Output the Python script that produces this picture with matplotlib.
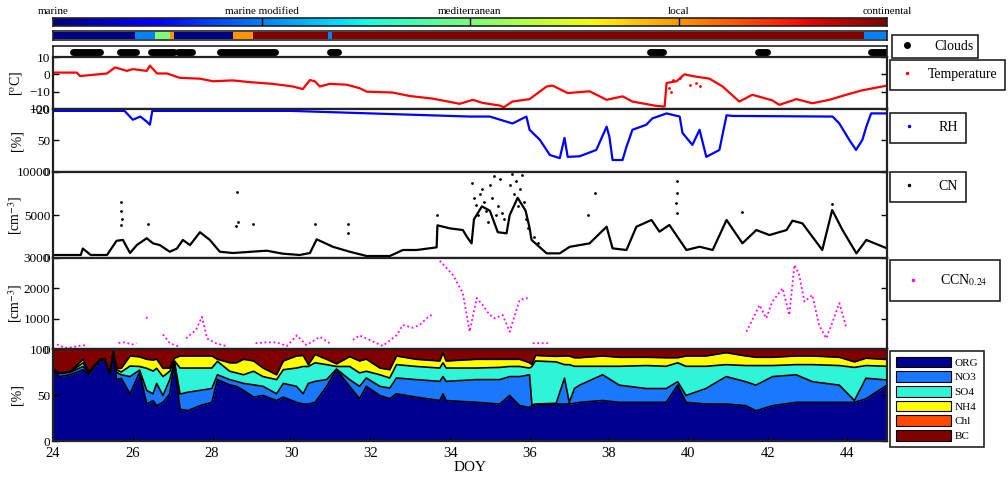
import numpy as np
import matplotlib
matplotlib.use("Agg")
import matplotlib.pyplot as plt
from matplotlib.lines import Line2D
from matplotlib.patches import Patch

plt.rcParams["font.family"] = ["Liberation Serif", "DejaVu Serif"]
plt.rcParams["mathtext.fontset"] = "stix"

# ---- air mass classification -------------------------------------------
airmass_names = ["marine", "marine modified", "mediterranean", "local", "continental"]
airmass_start = [24.0, 26.06, 26.57, 26.94, 27.04, 28.53, 29.03, 30.92, 31.02, 44.43]
airmass_end = [26.06, 26.57, 26.94, 27.04, 28.53, 29.03, 30.92, 31.02, 44.43, 45.0]
airmass_class = [0, 1, 2, 3, 0, 3, 4, 1, 4, 1]

# ---- cloud periods ------------------------------------------------------
cloud_start = [24.50, 25.69, 26.47, 27.14, 28.20, 30.97, 39.02, 41.74, 44.60]
cloud_end = [25.18, 26.09, 27.04, 27.50, 29.58, 31.17, 39.35, 41.99, 44.98]

# ---- temperature [C] ----------------------------------------------------
t_doy = [24.00, 24.60, 24.68, 25.36, 25.56, 25.86, 26.01, 26.36, 26.44, 26.62,
         26.87, 27.19, 27.70, 28.03, 28.53, 28.96, 29.53, 30.04, 30.29, 30.47,
         30.59, 30.72, 30.97, 31.40, 31.72, 31.90, 32.55, 32.98, 33.56, 34.24,
         34.57, 34.82, 35.25, 35.35, 35.57, 36.00, 36.43, 36.58, 36.96, 37.51,
         37.94, 38.34, 38.59, 39.19, 39.40, 39.45, 39.70, 39.90, 40.10, 40.53,
         40.86, 41.28, 41.61, 42.11, 42.29, 42.72, 43.12, 43.55, 43.97, 44.38,
         45.00]
temp = [1, 1, -1, 0.5, 4, 2, 3, 2, 5, 0.5,
        0.5, -2, -2.5, -4, -3.5, -4.5, -5.5, -7, -8.5, -3.3,
        -4, -7, -5.5, -6, -8, -10, -10.5, -12.5, -14, -17,
        -14.7, -16.5, -18, -19, -15.7, -14.3, -7, -6.5, -10.8, -9.8,
        -14.7, -12.7, -15.7, -18.2, -18.6, -5, -4, 0, -1, -2.5,
        -7, -15.7, -11.8, -15, -17.6, -14.3, -16.7, -14.7, -11.8, -9.2,
        -6.5]
t_extra_doy = [39.5, 39.6, 39.8, 40.05, 40.2, 40.3, 39.55]
t_extra = [-8, -3, -2, -6, -5, -7, -10]

# ---- relative humidity [%] ----------------------------------------------
rh_doy = [24.0, 25.8, 26.01, 26.2, 26.36, 26.44, 26.5, 30.0, 31.0, 32.5,
          33.5, 34.5, 35.0, 35.57, 35.92, 36.0, 36.26, 36.51, 36.76, 36.88,
          36.96, 37.26, 37.68, 37.94, 38.01, 38.09, 38.34, 38.44, 38.59, 38.94,
          39.09, 39.45, 39.78, 39.85, 40.10, 40.28, 40.45, 40.78, 40.96, 41.11,
          43.63, 43.80, 44.05, 44.22, 44.38, 44.48, 44.60, 45.0]
rh = [97, 97, 83, 88, 80, 75, 97, 97, 95, 92,
      90, 88, 88, 77, 88, 67, 51, 27, 22, 54,
      24, 25, 35, 72, 56, 19, 19, 40, 67, 75,
      85, 93, 88, 62, 43, 67, 24, 35, 90, 89,
      88, 77, 51, 35, 51, 72, 93, 93]

# ---- condensation nuclei [cm-3] -----------------------------------------
cn_doy = [24.0, 24.7, 24.75, 24.95, 25.36, 25.6, 25.76, 25.94, 26.11, 26.36,
          26.52, 26.69, 26.94, 27.12, 27.27, 27.45, 27.70, 27.95, 28.20, 28.53,
          29.38, 29.79, 30.21, 30.47, 30.64, 31.05, 31.47, 31.90, 32.48, 32.81,
          33.16, 33.66, 33.68, 33.99, 34.32, 34.42, 34.54, 34.6, 34.8, 35.0,
          35.2, 35.42, 35.5, 35.7, 35.9, 36.0, 36.05, 36.43, 36.76, 37.01,
          37.51, 37.94, 38.09, 38.44, 38.69, 39.07, 39.27, 39.52, 39.95, 40.28,
          40.61, 40.96, 41.36, 41.71, 42.04, 42.47, 42.62, 42.87, 43.37, 43.62,
          43.88, 44.23, 44.48, 45.0]
cn = [350, 350, 1100, 350, 350, 2000, 2100, 580, 1500, 2300,
      1700, 1500, 730, 1100, 2100, 1500, 3000, 2100, 730, 580,
      850, 500, 350, 580, 2170, 1300, 730, 230, 230, 930,
      930, 1240, 3800, 3450, 3250, 2480, 1700, 4500, 6000, 5500,
      3000, 2870, 5000, 7000, 5500, 3500, 2100, 540, 540, 1300,
      1700, 3640, 1120, 930, 3640, 4420, 3060, 3840, 930, 1310,
      930, 4420, 1710, 3250, 2670, 3250, 4340, 4030, 930, 5580,
      3250, 540, 2100, 1120]
cn_spike_doy = [25.7, 25.72, 25.74, 25.7, 26.4, 28.63, 28.65, 28.6, 29.03, 30.59,
                31.42, 31.44, 33.66, 34.55, 34.6, 34.65, 34.7, 34.75, 34.8, 34.85,
                34.9, 34.95, 35.0, 35.05, 35.1, 35.15, 35.2, 35.25, 35.3, 35.35,
                35.5, 35.55, 35.6, 35.65, 35.7, 35.75, 35.8, 35.85, 35.9, 35.95,
                36.1, 36.2, 37.46, 37.64, 39.7, 39.72, 39.68, 39.71, 41.36, 43.62]
cn_spike = [6500, 5500, 4500, 3800, 3900, 7700, 4200, 3700, 3900, 3900,
            3900, 2900, 5000, 8700, 7000, 6200, 5000, 7500, 8000, 6500,
            5500, 4200, 8500, 7000, 9500, 5000, 6000, 9200, 5200, 4500,
            8500, 9800, 7500, 9000, 6000, 8000, 9700, 6500, 4500, 3500,
            2500, 1800, 5000, 7600, 8900, 7600, 6400, 5200, 5400, 6300]

# ---- CCN at 0.24 % supersaturation [cm-3] (nan = no data) ---------------
ccn_doy = [24.1, 24.3, 24.5, 24.75, 24.85, np.nan,
           25.65, 25.8, 26.0, 26.1, np.nan,
           26.36, 26.37, np.nan,
           26.77, 26.94, 27.19, np.nan,
           27.35, 27.6, 27.75, 27.88, 28.1, 28.35, np.nan,
           29.1, 29.38, 29.63, 29.89, 30.14, 30.38, 30.72, 30.97, np.nan,
           31.55, 31.72, 32.3, 32.65, 32.81, 33.06, 33.23, 33.48, 33.56, np.nan,
           33.74, 34.07, 34.32, 34.42, 34.49, 34.67, 34.82, 34.99, 35.12, 35.32,
           35.5, 35.75, 35.95, np.nan,
           36.08, 36.5, np.nan,
           41.46, 41.79, 41.96, 42.11, 42.37, 42.54, 42.67, 42.79, 42.92, 43.12,
           43.29, 43.47, 43.62, 43.80, 43.97]
ccn = [150, 40, 60, 130, 100, np.nan,
       200, 220, 150, 200, np.nan,
       1060, 960, np.nan,
       480, 190, 70, np.nan,
       350, 630, 1060, 350, 190, 100, np.nan,
       190, 220, 220, 100, 450, 130, 400, 190, np.nan,
       300, 450, 100, 450, 790, 700, 790, 1100, 1120, np.nan,
       2910, 2440, 1840, 1100, 570, 1680, 1450, 1130, 1010, 1120,
       570, 1620, 1680, np.nan,
       190, 190, np.nan,
       570, 1450, 1010, 1560, 2000, 1120, 2770, 2440, 1560, 1780,
       790, 350, 860, 1510, 730]

# ---- aerosol composition, cumulative tops [%] ---------------------------
comp_doy = [24.00, 24.15, 24.43, 24.76, 24.90, 25.18, 25.30, 25.43, 25.52, 25.60,
            25.72, 25.94, 26.18, 26.36, 26.52, 26.61, 26.77, 26.94, 27.06, 27.20,
            27.40, 27.70, 28.00, 28.14, 28.45, 28.62, 28.80, 29.05, 29.29, 29.63,
            29.80, 30.13, 30.30, 30.43, 30.60, 30.89, 31.14, 31.47, 31.72, 31.89,
            32.23, 32.48, 32.65, 33.15, 33.74, 33.82, 33.90, 34.66, 35.25, 35.50,
            35.75, 36.00, 36.06, 36.15, 36.67, 36.88, 37.00, 37.13, 37.26, 37.84,
            38.26, 38.94, 39.44, 39.73, 39.94, 40.44, 40.95, 41.45, 41.70, 42.12,
            42.71, 43.13, 43.80, 44.18, 44.47, 45.00]
org_top = [77, 70, 72, 77.5, 72, 87, 88.8, 72, 96, 66.7,
           68, 51.3, 74.6, 40.2, 43.9, 38.4, 42, 51.3, 85, 34.5,
           33, 38.4, 42, 66.7, 61, 59.4, 55, 47.7, 49.5, 44,
           47.7, 42, 40.2, 40.2, 42, 59.4, 77.5, 59.4, 46, 59.4,
           49.5, 46, 51.3, 47.7, 44, 51.3, 44, 42, 40.2, 49.5,
           38.4, 36.5, 38.4, 39.5, 40.2, 40.2, 40.2, 41, 42, 44,
           42, 42, 42, 60.7, 42, 40.2, 40.2, 38.4, 32.8, 38.4,
           42, 42, 42, 42, 45.8, 60.7]
no3_top = [77.5, 73, 74.6, 81, 74, 87.5, 89, 73, 96.5, 74.6,
           72, 70, 77, 55, 51.3, 62.6, 49.5, 66.7, 86, 51,
           53, 55, 57, 72, 66.7, 64.8, 62.6, 61, 59.4, 51.3,
           62.6, 59.4, 51.3, 62.6, 64.8, 66.7, 78.2, 66.7, 59.4, 68.5,
           59.4, 57.5, 68.5, 66.7, 64.8, 70, 64.8, 66.7, 66.7, 70,
           70, 72, 39, 40.2, 41, 68.2, 42, 57, 60.7, 72,
           60.7, 57, 57, 64.4, 49.5, 57, 70, 64.4, 60.7, 70,
           72, 64.4, 60.7, 44, 68.2, 66.3]
so4_top = [78, 73.5, 75, 85, 74.5, 88, 89.3, 73.5, 97, 77.6,
           75, 81.5, 81, 79, 76, 79, 70, 75.8, 87, 79.3,
           79.3, 79.3, 79.3, 86.6, 75.8, 74, 72, 75.8, 70, 66.7,
           77.5, 79.3, 81, 81, 85, 83, 81, 81, 74, 75.8,
           72, 68.5, 83, 81, 79.3, 85, 79.3, 79.3, 80, 81,
           81, 79.3, 81, 87, 86, 83, 83, 81.2, 81.2, 81.2,
           81.2, 82, 81.2, 85, 81.2, 81.2, 83, 82, 82, 82,
           83, 83, 82, 80, 82, 81.2]
nh4_top = [78.5, 74, 75.5, 88.8, 75.5, 88.5, 89.6, 74, 97.5, 79,
           79, 92.4, 91.5, 88.8, 88, 89, 79, 79.3, 90, 92.4,
           92.4, 92.4, 92.4, 88.8, 85, 85, 88.8, 87, 79.3, 72,
           87, 92.4, 93, 83, 94, 88.8, 83.8, 91.7, 87, 89,
           79.3, 77.5, 92.4, 88.8, 87, 96, 87, 88.8, 88.8, 88.8,
           88.8, 85, 83, 93, 92, 92.4, 92.4, 90.5, 90.5, 92.4,
           91, 91, 90.5, 90.5, 92.4, 92.4, 96, 92.4, 91, 91,
           92.4, 92.4, 91, 86, 90, 88.6]
species = ["ORG", "NO3", "SO4", "NH4", "Chl", "BC"]
species_colors = ["#00008f", "#1a78ff", "#2ff5d8", "#ffff00", "#ff4a00", "#800000"]

# ---- layout -------------------------------------------------------------
W_PX, H_PX = 1008, 478
fig = plt.figure(figsize=(W_PX / 100, H_PX / 100), dpi=100)
X0, X1 = 53, 887


def panel(top, bottom):
    return fig.add_axes([X0 / W_PX, 1 - bottom / H_PX,
                         (X1 - X0) / W_PX, (bottom - top) / H_PX])


def frame(ax, lw=1.6):
    for sp in ax.spines.values():
        sp.set_linewidth(lw)
        sp.set_color("#222222")


def leg(ax, handles, labels, x, y, **kw):
    opts = dict(loc="upper left", bbox_to_anchor=(x / W_PX, 1 - y / H_PX),
                bbox_transform=fig.transFigure, fancybox=False, framealpha=1,
                edgecolor="#222222", fontsize=10, borderaxespad=0,
                handlelength=1.5, borderpad=0.6, handletextpad=1.4)
    opts.update(kw)
    lg = ax.legend(handles, labels, **opts)
    lg.get_frame().set_linewidth(1.2)
    return lg


jet = plt.get_cmap("jet")

# colour key for air mass types
ax_key = panel(18, 26)
ax_key.imshow(np.linspace(0, 1, 256)[None, :], aspect="auto", cmap=jet,
              extent=[0, 1, 0, 1])
for k, name in enumerate(airmass_names):
    pos = k / (len(airmass_names) - 1)
    if 0 < pos < 1:
        ax_key.plot([pos, pos], [0, 1], color="black", lw=1)
    ax_key.text(pos, 1.25, name, ha="center", va="bottom", fontsize=8,
                transform=ax_key.transAxes)
ax_key.set_xlim(0, 1)
ax_key.set_ylim(0, 1)
ax_key.set_xticks([])
ax_key.set_yticks([])
frame(ax_key, 1.2)

# air mass strip
ax_am = panel(31, 40)
for s, e, c in zip(airmass_start, airmass_end, airmass_class):
    ax_am.axvspan(s, e, ymin=0.12, ymax=0.88, color=jet(c / 4), lw=0)
ax_am.set_xlim(24, 45)
ax_am.set_xticks([])
ax_am.set_yticks([])
frame(ax_am, 1.2)

# clouds
ax_cl = panel(46, 57)
for s, e in zip(cloud_start, cloud_end):
    ax_cl.plot([s, e], [0, 0], color="black", lw=5, solid_capstyle="round")
ax_cl.set_xlim(24, 45)
ax_cl.set_ylim(-1, 1.4)
ax_cl.set_xticks([])
ax_cl.set_yticks([])
frame(ax_cl, 1.2)
leg(ax_cl, [Line2D([], [], color="black", marker=".", ls="none", markersize=8)],
    ["Clouds"], 892, 35, borderpad=0.35, handletextpad=1.2)

tick_kw = dict(direction="in", labelsize=9.5, right=True, length=4, width=1, pad=2)

# temperature
ax_t = panel(57, 109)
ax_t.plot(t_doy, temp, color="red", lw=1.6)
ax_t.plot(t_extra_doy, t_extra, ".", color="red", ms=2)
ax_t.set_ylim(-20, 10)
ax_t.set_yticks([-20, -10, 0, 10])
ax_t.set_ylabel(r"[$^{\rm o}$C]", fontsize=10)
leg(ax_t, [Line2D([], [], color="red", marker=".", ls="none", markersize=3)],
    ["Temperature"], 890, 60, handletextpad=0.9, handlelength=1.2)

# relative humidity
ax_rh = panel(109, 172)
ax_rh.plot(rh_doy, rh, color="blue", lw=1.6)
ax_rh.set_ylim(0, 100)
ax_rh.set_yticks([0, 50, 100])
ax_rh.set_ylabel("[%]", fontsize=10)
leg(ax_rh, [Line2D([], [], color="blue", marker=".", ls="none", markersize=3)],
    ["RH"], 890, 113)

# CN
ax_cn = panel(172, 258)
ax_cn.plot(cn_doy, cn, color="black", lw=1.6)
ax_cn.plot(cn_spike_doy, cn_spike, ".", color="black", ms=2)
ax_cn.set_ylim(0, 10000)
ax_cn.set_yticks([0, 5000, 10000])
ax_cn.set_ylabel(r"[cm$^{-3}$]", fontsize=10)
leg(ax_cn, [Line2D([], [], color="black", marker=".", ls="none", markersize=3)],
    ["CN"], 890, 172)

# CCN
ax_ccn = panel(258, 349)
ax_ccn.plot(ccn_doy, ccn, color="magenta", lw=1.3, ls=(0, (1, 1.5)))
ax_ccn.set_ylim(0, 3000)
ax_ccn.set_yticks([0, 1000, 2000, 3000])
ax_ccn.set_ylabel(r"[cm$^{-3}$]", fontsize=10)
leg(ax_ccn, [Line2D([], [], color="magenta", marker=".", ls="none", markersize=3)],
    [r"CCN$_{0.24}$"], 890, 260, borderpad=0.9, handletextpad=1.2)

# composition
ax_c = panel(349, 441)
tops = [np.zeros(len(comp_doy)), np.array(org_top), np.array(no3_top),
        np.array(so4_top), np.array(nh4_top), np.array(nh4_top),
        np.full(len(comp_doy), 100.0)]
for k in range(len(species)):
    ax_c.fill_between(comp_doy, tops[k], tops[k + 1], color=species_colors[k], lw=0)
for b in tops[1:5]:
    ax_c.plot(comp_doy, b, color="black", lw=1.2)
ax_c.set_ylim(0, 100)
ax_c.set_yticks([0, 50, 100])
ax_c.set_ylabel("[%]", fontsize=10)
ax_c.set_xticks(range(24, 45, 2))
ax_c.tick_params(axis="x", labelsize=10.5, direction="in", top=False, pad=4)
ax_c.set_xlabel("DOY", fontsize=11, labelpad=1)
leg(ax_c, [Patch(facecolor=c, edgecolor="black", lw=0.8) for c in species_colors],
    species, 890, 351, fontsize=8, handlelength=5.0, handleheight=1.1,
    labelspacing=0.32, handletextpad=0.3, borderpad=0.5)

for ax in (ax_t, ax_rh, ax_cn, ax_ccn, ax_c):
    ax.set_xlim(24, 45)
    ax.tick_params(axis="y", **tick_kw)
    ax.yaxis.set_label_coords(-0.035, 0.5)
    frame(ax)
for ax in (ax_t, ax_rh, ax_cn, ax_ccn):
    ax.set_xticks([])

fig.savefig("out.png", dpi=100)
